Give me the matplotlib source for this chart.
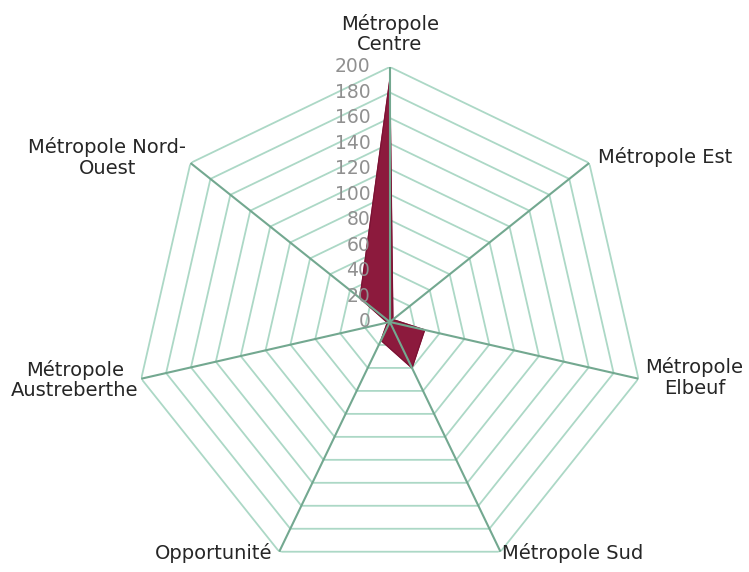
import numpy as np
import matplotlib
matplotlib.use("Agg")
from matplotlib import pyplot as plt

plt.rcParams['font.family'] = ['DejaVu Sans']

# zones, clockwise from the top
categories = ['Métropole\nCentre', 'Métropole Est', 'Métropole\nElbeuf', 'Métropole Sud',
              'Opportunité', 'Métropole\nAustreberthe', 'Métropole Nord-\nOuest']
values = [190, 3, 28, 40, 16, 2, 30]
ticks = [0, 20, 40, 60, 80, 100, 120, 140, 160, 180, 200]

# label placement: (offset x, offset y) in points, ha, va
label_pos = [((0, 9), 'center', 'bottom'),
             ((6, 4), 'left', 'center'),
             ((5, 1), 'left', 'center'),
             ((1, -1), 'left', 'center'),
             ((-5, -1), 'right', 'center'),
             ((-2, -1), 'right', 'center'),
             ((-3, 4), 'right', 'center')]

grid_col = '#acd8c6'
spoke_col = '#73a890'

n = len(categories)
theta = np.linspace(0, 2 * np.pi, n, endpoint=False)
theta_c = np.append(theta, theta[0])

fig = plt.figure(figsize=(7.49, 5.72), dpi=100)
ax = fig.add_axes([0.180, -0.0087, 0.681, 0.8916], projection='polar')
ax.set_theta_zero_location('N')
ax.set_theta_direction(-1)
ax.set_ylim(0, 200)
ax.grid(False)
ax.spines['polar'].set_visible(False)
ax.set_xticks([])
ax.set_yticks([])
ax.patch.set_alpha(0)

# heptagon rings
for t in ticks[1:]:
    ax.plot(theta_c, [t] * (n + 1), color=grid_col, lw=1.3, zorder=1)

# data polygon
v = values + values[:1]
ax.fill(theta_c, v, color='#8c1a3d', zorder=2)
ax.plot(theta_c, v, color='#7a1233', lw=0.8, zorder=2)

# spokes
for th in theta:
    ax.plot([th, th], [0, 200], color=spoke_col, lw=1.5, zorder=3)

# radial tick labels along the top axis
for t in ticks:
    ax.annotate(str(t), (0, t), xytext=(-14, 0), textcoords='offset points',
                ha='right', va='center', fontsize=13.5, color='#909090',
                annotation_clip=False, zorder=4)

for th, lab, (off, ha, va) in zip(theta, categories, label_pos):
    ax.annotate(lab, (th, 200), xytext=off, textcoords='offset points',
                ha=ha, va=va, multialignment='center', fontsize=14,
                linespacing=1.1, color='#262626', annotation_clip=False)

plt.savefig('out.png', dpi=100)
